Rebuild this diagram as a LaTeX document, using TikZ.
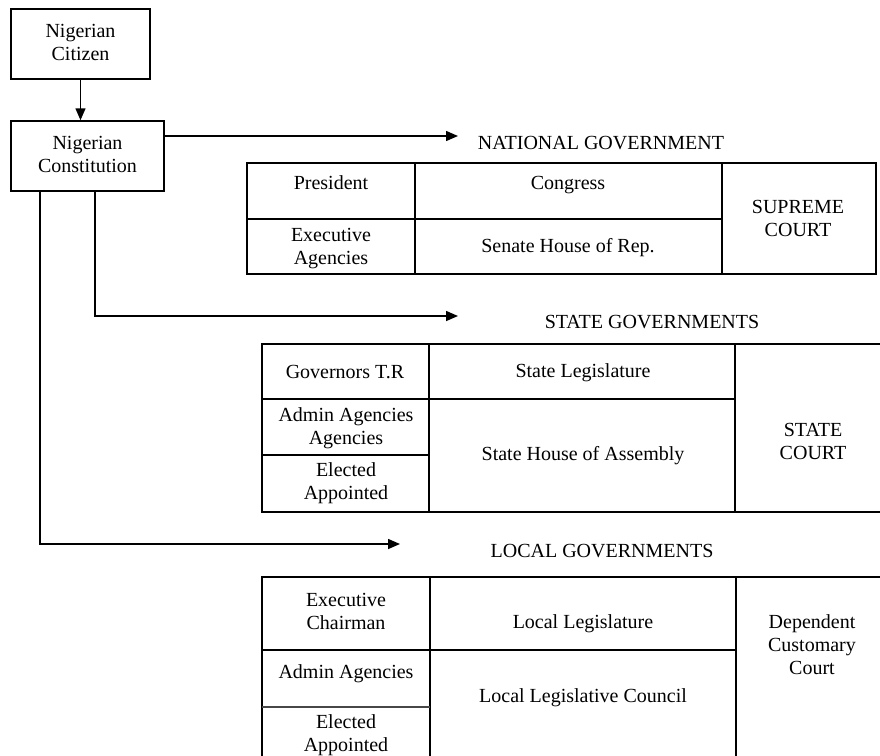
\documentclass[tikz,border=0pt]{standalone}
\usepackage{fontspec}
\setmainfont{Liberation Serif}
\usetikzlibrary{arrows.meta}
\newcommand\mycell[5]{%
  \node[cellbox, minimum width={(#4-#2)*1pt}, minimum height={(#5-#3)*1pt}] (#1) at ({(#2+#4)/2},{(#3+#5)/2}) {};}
\begin{document}
\begin{tikzpicture}[x=1pt,y=-1pt,
  every node/.style={font=\fontsize{20}{23}\selectfont},
  txt/.style={align=center, inner sep=0pt, yshift=-2pt},
  box/.style={draw, line width=1.5pt, align=center, inner sep=0pt},
  cellbox/.style={draw, line width=1.6pt, inner sep=0pt, outer sep=0pt},
  conn/.style={line width=1.5pt},
  arr/.style={conn, -{Triangle[length=12pt,width=10pt]}}]
\useasboundingbox (0,0) rectangle (880,755);
\clip (0,0) rectangle (880,755);
% top boxes
\node[box, minimum width=139pt, minimum height=70pt] (cit) at (80.5,44) {\strut Nigerian\\Citizen\strut};
\node[box, minimum width=153pt, minimum height=70pt] (con) at (87.5,156) {\strut Nigerian\\Constitution\strut};
\draw[arr] (cit.south) -- (cit.south |- con.north);
% connectors
\coordinate (natarr) at (458,136);
\coordinate (stcorner) at (95,316);
\coordinate (starr) at (458,316);
\coordinate (lccorner) at (40,544);
\coordinate (lcarr) at (400,544);
\draw[arr] (con.east |- natarr) -- (natarr);
\draw[arr] (con.south -| stcorner) -- (stcorner) -- (starr);
\draw[arr] (con.south -| lccorner) -- (lccorner) -- (lcarr);
% headings
\node[txt] (natlab) at (601,143) {\strut NATIONAL GOVERNMENT};
\node[txt] (stlab) at (652,322) {\strut STATE GOVERNMENTS};
\node[txt] (lclab) at (602,551) {\strut LOCAL GOVERNMENTS};
% national table
\mycell{npres}{247}{163}{415}{219}
\mycell{ncong}{415}{163}{722}{219}
\mycell{nexec}{247}{219}{415}{274}
\mycell{nsen}{415}{219}{722}{274}
\mycell{nsup}{722}{163}{876}{274}
\node[txt] (tpres) at (331,183) {\strut President};
\node[txt] (tcong) at (568,183) {\strut Congress};
\node[txt] (texec) at (331,246.5) {\strut Executive\\Agencies\strut};
\node[txt] (tsen) at (568,246) {\strut Senate House of Rep.};
\node[txt] (tsup) at (798,218) {\strut SUPREME\\COURT\strut};
% state table
\mycell{sgov}{262}{344}{429}{399}
\mycell{sadm}{262}{399}{429}{455}
\mycell{sele}{262}{455}{429}{512}
\mycell{sleg}{429}{344}{735}{399}
\mycell{shou}{429}{399}{735}{512}
\mycell{scrt}{735}{344}{895}{512}
\node[txt] (tgov) at (345,372) {\strut Governors T.R};
\node[txt] (tsadm) at (346,426) {\strut Admin Agencies\\Agencies\strut};
\node[txt] (tsele) at (346,481.5) {\strut Elected\\Appointed\strut};
\node[txt] (tsleg) at (583,371) {\strut State Legislature};
\node[txt] (tshou) at (583,454) {\strut State House of Assembly};
\node[txt] (tscrt) at (813,441) {\strut STATE\\COURT\strut};
% local table
\mycell{lexe}{262}{577}{430}{650}
\mycell{ladm}{262}{650}{430}{707}
\mycell{lele}{262}{707}{430}{775}
\mycell{lleg}{430}{577}{736}{650}
\mycell{lcou}{430}{650}{736}{775}
\mycell{lcrt}{736}{577}{895}{775}
\draw[line width=2.6pt, black!72] (lele.north west) -- (lele.north east);
\node[txt] (tlexe) at (346,611) {\strut Executive\\Chairman\strut};
\node[txt] (tladm) at (346,672) {\strut Admin Agencies};
\node[txt] (tlele) at (346,733.5) {\strut Elected\\Appointed\strut};
\node[txt] (tlleg) at (583,622) {\strut Local Legislature};
\node[txt] (tlcou) at (583,696) {\strut Local Legislative Council};
\node[txt] (tlcrt) at (812,645) {\strut Dependent\\Customary\\Court\strut};
\end{tikzpicture}
\end{document}
